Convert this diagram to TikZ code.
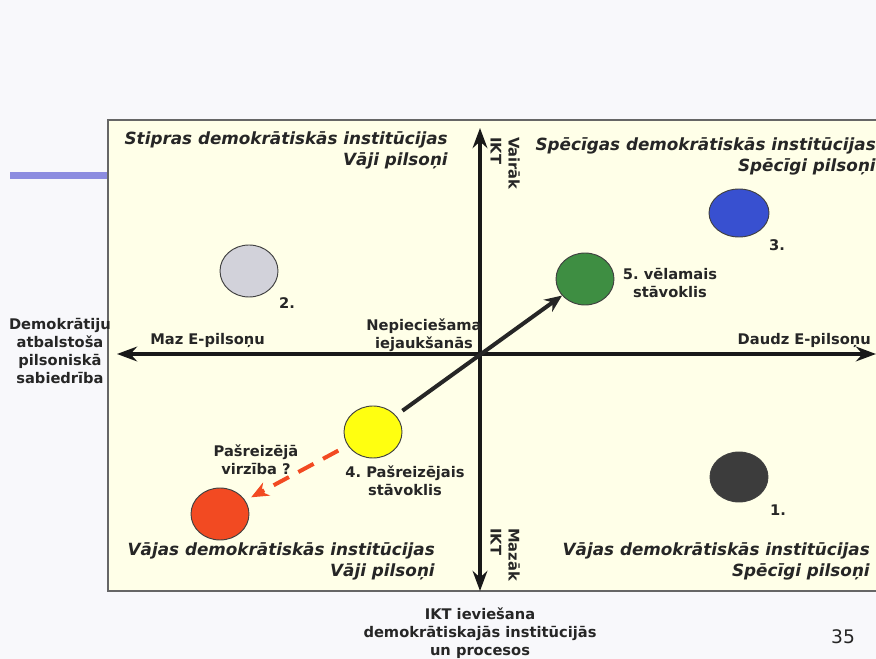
\documentclass[tikz,border=0pt]{standalone}
\usepackage{fontspec}
\setmainfont{DejaVu Sans}
\usepackage{tikz}
\usetikzlibrary{arrows.meta,positioning,shapes.geometric}
\frenchspacing
\definecolor{paper}{HTML}{FFFFE8}
\definecolor{page}{HTML}{F8F8FB}
\definecolor{ink}{HTML}{262626}
\definecolor{barblue}{HTML}{8C8CE0}
\definecolor{stategrey}{HTML}{D2D2DA}
\definecolor{stateblue}{HTML}{3850D0}
\definecolor{stategreen}{HTML}{3E8E42}
\definecolor{stateyellow}{HTML}{FFFF10}
\definecolor{statedark}{HTML}{3C3C3C}
\definecolor{statered}{HTML}{F24A22}
\tikzset {
	state/.style={ellipse, draw=black!75, line width=.7pt, minimum width=43.5pt, minimum height=39pt, inner sep=0pt},
	quadrant/.style={font=\bfseries\itshape\fontsize{12.6}{16}\selectfont, text=ink, align=right, inner sep=0pt},
	tag/.style={font=\bfseries\fontsize{11}{13.5}\selectfont, text=ink, align=center, inner sep=0pt},
	axis/.style={line width=2.6pt, draw=black!90, {Stealth[length=15pt,width=11pt]}-{Stealth[length=15pt,width=11pt]}}
}
\begin{document}
\begin{tikzpicture}[x=0.75pt,y=-0.75pt]
	\useasboundingbox (0,0) rectangle (876,659);
	\fill[page] (0,0) rectangle (876,659);
	\fill[barblue] (10,172) rectangle (108,179);
	\draw[fill=paper, draw=black!60, line width=.8pt] (108,120) rectangle (877,591);

	% axes
	\coordinate (west) at (117,354);
	\coordinate (east) at (876,354);
	\coordinate (north) at (480,128);
	\coordinate (south) at (480,591);
	\draw[axis] (west) -- (east);
	\draw[axis] (north) -- (south);

	% quadrants
	\node[quadrant, anchor=north east] (nw) at (448,131) {Stipras demokrātiskās institūcijas\\Vāji pilsoņi};
	\node[quadrant, anchor=north east] (ne) at (876,137) {Spēcīgas demokrātiskās institūcijas\\Spēcīgi pilsoņi};
	\node[quadrant, anchor=north east] (sw) at (435,542) {Vājas demokrātiskās institūcijas\\Vāji pilsoņi};
	\node[quadrant, anchor=north east] (se) at (870,542) {Vājas demokrātiskās institūcijas\\Spēcīgi pilsoņi};

	% axis labels
	\node[tag, rotate=-90, align=left, anchor=north west] (more) at (520,137) {Vairāk\\IKT};
	\node[tag, rotate=-90, align=left, anchor=north west] (less) at (520,528) {Mazāk\\IKT};
	\node[tag, anchor=west] (few) at (150,340) {Maz E-pilsoņu};
	\node[tag, anchor=east] (many) at (871,340) {Daudz E-pilsoņu};
	\node[tag] (society) at (60,351) {Demokrātiju\\atbalstoša\\pilsoniskā\\sabiedrība};
	\node[tag] (ict) at (480,633) {IKT ieviešana\\demokrātiskajās institūcijās\\un procesos};
	\node[tag] (need) at (424,335) {Nepieciešama\\iejaukšanās};

	% states
	\node[state, fill=stategrey] (s2) at (249,271) {};
	\node[state, fill=stateblue, minimum width=45pt, minimum height=36pt] (s3) at (739,213) {};
	\node[state, fill=stategreen] (s5) at (585,279) {};
	\node[state, fill=stateyellow] (s4) at (373,432) {};
	\node[state, fill=statedark, minimum height=37.5pt] (s1) at (739,477) {};
	\node[state, fill=statered] (sr) at (220,514) {};

	\node[tag] (n2) at (287,303) {2.};
	\node[tag] (n3) at (777,245) {3.};
	\node[tag] (n1) at (778,510) {1.};
	\node[tag] (goal) at (670,283) {5. vēlamais\\stāvoklis};
	\node[tag] (now) at (405,481) {4. Pašreizējais\\stāvoklis};
	\node[tag] (trend) at (256,460) {Pašreizējā\\virzība ?};

	% moves
	\draw[line width=3pt, draw=ink, -{Stealth[length=13pt,width=11pt]}, shorten <=6pt] (s4) -- (s5);
	\draw[line width=3pt, draw=statered, dash pattern=on 13pt off 8pt, -{Stealth[length=13pt,width=11pt]}, shorten <=8pt, shorten >=5pt] (s4) -- (sr);

	\node[font=\fontsize{14}{16}\selectfont, text=ink] (pg) at (843,637) {35};
\end{tikzpicture}
\end{document}
